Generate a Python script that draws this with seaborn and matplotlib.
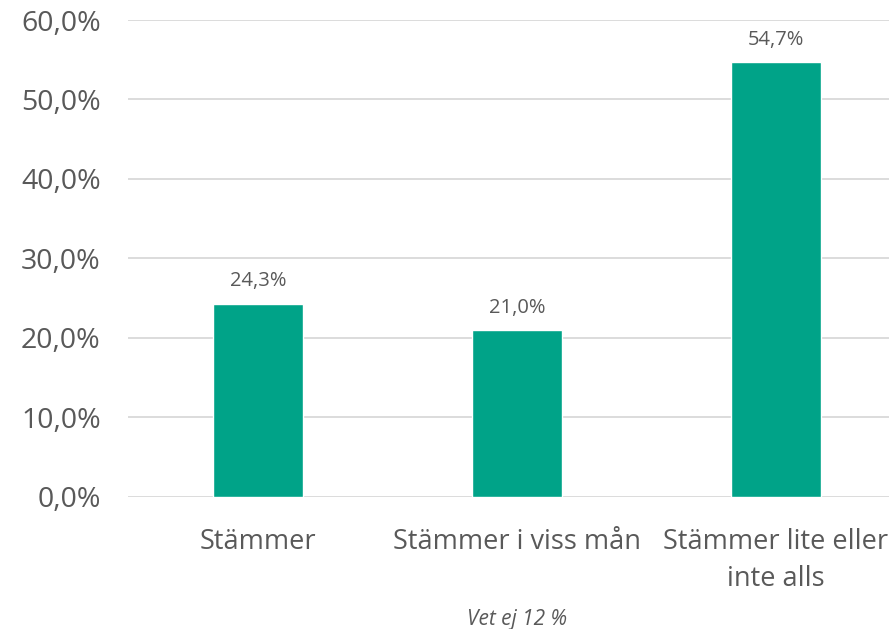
import matplotlib
matplotlib.use("Agg")
import pandas as pd
import seaborn as sns
import matplotlib.pyplot as plt
import matplotlib.ticker as mticker

# ─── DATA ────────────────────────────────────────────────────────────────────
categories = ["Stämmer", "Stämmer i viss mån", "Stämmer lite eller\ninte alls"]
values = [24.3, 21.0, 54.7]
y_ticks = [0, 10, 20, 30, 40, 50, 60]
footnote = "Vet ej 12 %"

BAR_COLOR = "#00A388"
TEXT_COLOR = "#595959"
GRID_COLOR = "#D9D9D9"

sns.set_theme(style="white")
plt.rcParams["font.family"] = ["Open Sans", "DejaVu Sans"]

df = pd.DataFrame({"category": categories, "value": values})

fig = plt.figure(figsize=(8.89, 6.29), dpi=100)
ax = fig.add_axes([0.1445, 0.2099, 0.874, 0.7583])

sns.barplot(data=df, x="category", y="value", color=BAR_COLOR,
            width=0.35, saturation=1, ax=ax, zorder=3)

ax.set_ylim(0, 60)
ax.set_yticks(y_ticks)
ax.yaxis.set_major_formatter(
    mticker.FuncFormatter(lambda v, _: f"{v:.1f}%".replace(".", ",")))
ax.grid(axis="y", color=GRID_COLOR, linewidth=1.3, zorder=0)
ax.set_axisbelow(True)
for s in ax.spines.values():
    s.set_visible(False)

ax.tick_params(axis="y", length=0, pad=20, labelsize=20.5, labelcolor=TEXT_COLOR)
ax.tick_params(axis="x", length=0, pad=22, labelsize=19.5, labelcolor=TEXT_COLOR)
for lbl in ax.get_xticklabels():
    lbl.set_linespacing(1.45)
ax.set_xlabel("")
ax.set_ylabel("")

for p, v in zip(ax.patches, values):
    ax.annotate(f"{v:.1f}%".replace(".", ","),
                (p.get_x() + p.get_width() / 2, p.get_height()),
                xytext=(0, 9), textcoords="offset points",
                ha="center", va="bottom", fontsize=14.5, color=TEXT_COLOR)

fig.text(517 / 889, 1 - 619 / 629, footnote, ha="center", va="center",
         fontsize=15, style="italic", color=TEXT_COLOR)

fig.savefig("out.png", dpi=100)
